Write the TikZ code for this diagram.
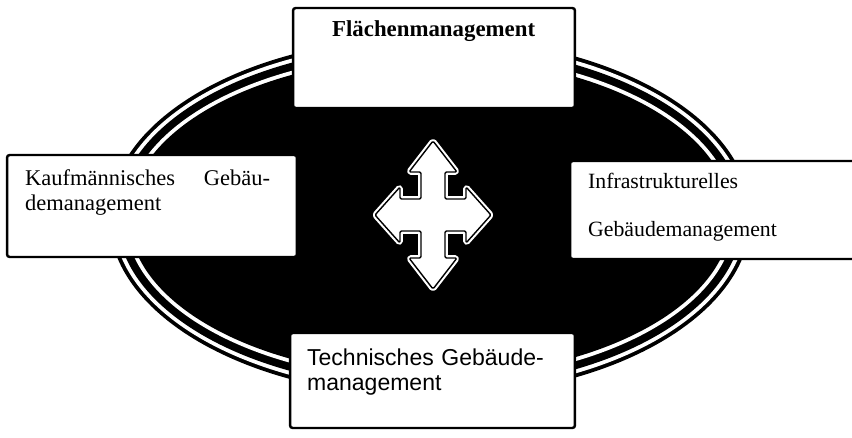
\documentclass[tikz,border=0pt]{standalone}
\usepackage{fontspec}
\setmainfont{Liberation Serif}
\newfontfamily\arialfont{Liberation Sans}
\usetikzlibrary{positioning}

\begin{document}
\begin{tikzpicture}[
  x=0.02cm, y=-0.02cm,
  panel/.style={rectangle,draw=black,fill=white,line width=1.4pt,rounded corners=1.5pt,inner sep=0pt},
  caption/.style={inner sep=0pt,anchor=base west,align=left,text width=4.9cm,font=\fontsize{12.8pt}{14.2pt}\selectfont},
  cross/.style={fill=white,draw=white,double=black,double distance=0.8pt,line width=1.2pt,line join=round,rounded corners=0.8pt}
]

\useasboundingbox (0,0) rectangle (852,437);

% ring
\coordinate (ctr) at (430,217);
\foreach \a/\b/\c in {6.42/3.60/black,6.34/3.52/white,6.26/3.44/black,6.10/3.28/white,6.02/3.20/black}
  \fill[\c] (ctr) ellipse [x radius=\a cm, y radius=\b cm];

% four way arrow
\begin{scope}[shift={(433,215)}]
\draw[cross] (0,-74) -- (24,-43) -- (12,-43) -- (12,-16) -- (33,-16) -- (33,-28) -- (58,0) -- (33,28) -- (33,16)
 -- (12,16) -- (12,43) -- (24,43) -- (0,74) -- (-24,43) -- (-12,43) -- (-12,16) -- (-33,16) -- (-33,28)
 -- (-58,0) -- (-33,-28) -- (-33,-16) -- (-12,-16) -- (-12,-43) -- (-24,-43) -- cycle;
\end{scope}

\node[panel,minimum width=5.64cm,minimum height=2.0cm] (flaeche) at (434,58) {};
\node[panel,minimum width=5.8cm,minimum height=2.04cm] (kauf) at (152,206) {};
\node[panel,minimum width=5.8cm,minimum height=1.96cm] (infra) at (715,210) {};
\node[panel,minimum width=5.7cm,minimum height=1.9cm] (tech) at (432.5,380.5) {};

\node[caption,font=\fontsize{13pt}{14.2pt}\selectfont\bfseries] (flaechetxt) at ([xshift=0.8cm,yshift=-0.6cm]flaeche.north west) {Flächenmanagement};
\node[caption] (kauftxt) at ([xshift=0.38cm,yshift=-0.64cm]kauf.north west) {Kaufmännisches\hfill Gebäu-\\demanagement};
\node[caption,font=\fontsize{12.4pt}{27.3pt}\selectfont] (infratxt) at ([xshift=0.38cm,yshift=-0.58cm]infra.north west) {Infrastrukturelles\\Gebäudemanagement};
\node[caption,font=\fontsize{13.1pt}{14.2pt}\selectfont\arialfont] (techtxt) at ([xshift=0.36cm,yshift=-0.68cm]tech.north west) {Technisches Gebäude-\\management};

\end{tikzpicture}
\end{document}
